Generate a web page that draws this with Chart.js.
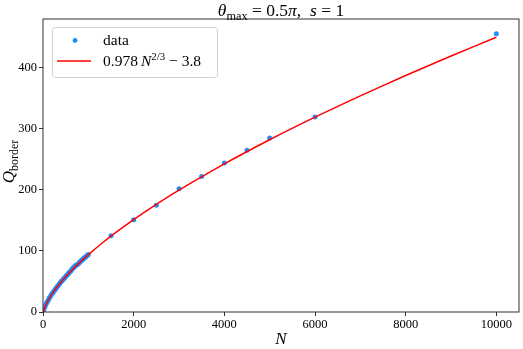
<!DOCTYPE html>
<html lang="en">
<head>
<meta charset="UTF-8">
<title>Q_border vs N</title>
<script src="https://cdn.jsdelivr.net/npm/chart.js"></script>
<style>
  html, body { margin: 0; padding: 0; background: #fff; }
  #wrap { width: 523px; height: 349px; }
</style>
</head>
<body>
<div id="wrap"><canvas id="qChart" width="523" height="349"></canvas></div>
<script>
const nValues = [10, 20, 40, 60, 80, 100, 120, 140, 160, 180, 200, 220, 240, 260, 280, 300,
  320, 340, 360, 380, 400, 420, 440, 460, 480, 500, 520, 540, 560, 580, 600, 620, 640, 660,
  680, 700, 720, 740, 760, 780, 800, 820, 840, 860, 880, 900, 920, 940, 960, 980, 1000,
  1500, 2000, 2500, 3000, 3500, 4000, 4500, 5000, 6000, 10000];
const qValues = [2, 4, 8, 12, 15, 17, 20, 23, 25, 28, 30, 32, 34, 36, 38, 40,
  42, 44, 46, 48, 50, 51, 53, 55, 56, 58, 60, 61, 63, 65, 66, 68, 70, 72,
  73, 75, 76, 77, 78, 79, 81, 82, 84, 85, 86, 88, 89, 90, 92, 93, 94,
  125, 151, 175, 202, 222, 244, 265, 285, 319.5, 456];

// fitted curve from the legend: 0.978 N^(2/3) - 3.8
const fitCoef = 0.978;
const fitExp = 2 / 3;
const fitShift = -3.8;
const fitN = [1, 2, 4, 7, 10, 15, 20, 30, 50, 75, 100, 150, 200, 300, 400, 500, 650, 800,
  1000, 1300, 1600, 2000, 2500, 3000, 4000, 5000, 6000, 7000, 8000, 9000, 10000];

const xTicks = [0, 2000, 4000, 6000, 8000, 10000];
const yTicks = [0, 100, 200, 300, 400];

const SERIF = '"Liberation Serif", "DejaVu Serif", serif';

// draw text made of runs (italic / sub / sup) so the math labels look right
function drawRuns(ctx, runs, x, y, size, align) {
  const parts = runs.map(r => {
    const s = (r.sub || r.sup) ? size * 0.7 : size;
    const font = (r.it ? 'italic ' : '') + s + 'px ' + SERIF;
    ctx.font = font;
    return { t: r.t, font, w: ctx.measureText(r.t).width,
      dy: r.sub ? size * 0.25 : (r.sup ? -size * 0.4 : 0) };
  });
  const total = parts.reduce((a, p) => a + p.w, 0);
  let cx = align === 'center' ? x - total / 2 : x;
  ctx.textAlign = 'left';
  ctx.textBaseline = 'alphabetic';
  parts.forEach(p => { ctx.font = p.font; ctx.fillText(p.t, cx, y + p.dy); cx += p.w; });
}

const decorations = {
  id: 'decorations',
  afterDraw(chart) {
    const ctx = chart.ctx;
    const a = chart.chartArea;
    ctx.save();
    // frame
    ctx.strokeStyle = '#333';
    ctx.lineWidth = 1;
    ctx.strokeRect(a.left, a.top, a.right - a.left, a.bottom - a.top);

    ctx.fillStyle = '#000';
    const cxPlot = (a.left + a.right) / 2;
    // title
    drawRuns(ctx, [{ t: 'θ', it: true }, { t: 'max', sub: true }, { t: ' = 0.5' },
      { t: 'π', it: true }, { t: ',  ' }, { t: 's', it: true }, { t: ' = 1' }],
      cxPlot, 16, 17.5, 'center');
    // x label
    drawRuns(ctx, [{ t: 'N', it: true }], cxPlot, 344, 17, 'center');
    // y label
    ctx.save();
    ctx.translate(14, (a.top + a.bottom) / 2 - 4);
    ctx.rotate(-Math.PI / 2);
    drawRuns(ctx, [{ t: 'Q', it: true }, { t: 'border', sub: true }], 0, 0, 17, 'center');
    ctx.restore();

    // legend
    const lx = 52, ly = 27, lw = 165, lh = 50;
    ctx.beginPath();
    ctx.roundRect(lx + 0.5, ly + 0.5, lw, lh, 3);
    ctx.fillStyle = 'rgba(255,255,255,0.8)';
    ctx.fill();
    ctx.strokeStyle = '#d0d0d0';
    ctx.stroke();

    ctx.fillStyle = '#1f8fff';
    ctx.beginPath();
    ctx.arc(75, 40.5, 2.4, 0, Math.PI * 2);
    ctx.fill();
    ctx.strokeStyle = '#ff0000';
    ctx.lineWidth = 1.5;
    ctx.beginPath();
    ctx.moveTo(57, 61);
    ctx.lineTo(91, 61);
    ctx.stroke();

    ctx.fillStyle = '#000';
    drawRuns(ctx, [{ t: 'data' }], 103, 45, 15.5, 'left');
    drawRuns(ctx, [{ t: '0.978\u2009' }, { t: 'N', it: true }, { t: '2/3', sup: true },
      { t: ' − 3.8' }], 103, 66, 15.5, 'left');
    ctx.restore();
  }
};

const ctx = document.getElementById('qChart').getContext('2d');
const qChart = new Chart(ctx, {
  type: 'scatter',
  data: {
    datasets: [{
      label: 'fit',
      data: fitN.map(n => ({ x: n, y: fitCoef * Math.pow(n, fitExp) + fitShift })),
      showLine: true,
      borderColor: '#ff0000',
      borderWidth: 1.5,
      pointRadius: 0,
      tension: 0.3,
      order: 0
    }, {
      label: 'data',
      data: nValues.map((n, i) => ({ x: n, y: qValues[i] })),
      backgroundColor: '#1f8fff',
      borderWidth: 0,
      pointRadius: 2.5,
      order: 1
    }]
  },
  options: {
    responsive: false,
    animation: false,
    layout: { padding: { left: 0, top: 19, right: 3, bottom: 0 } },
    plugins: { legend: { display: false }, title: { display: false }, tooltip: { enabled: false } },
    scales: {
      x: {
        type: 'linear',
        min: 0,
        max: 10500,
        afterBuildTicks: s => { s.ticks = xTicks.map(v => ({ value: v })); },
        afterFit: s => { s.height = 37; },
        border: { display: false },
        grid: { drawOnChartArea: false, drawTicks: true, tickLength: 4, color: '#333' },
        ticks: { color: '#000', padding: 1, maxRotation: 0, callback: v => String(v),
          font: { family: SERIF, size: 12.5 } }
      },
      y: {
        type: 'linear',
        min: 0,
        max: 480,
        afterBuildTicks: s => { s.ticks = yTicks.map(v => ({ value: v })); },
        afterFit: s => { s.width = 43; },
        border: { display: false },
        grid: { drawOnChartArea: false, drawTicks: true, tickLength: 4, color: '#333' },
        ticks: { color: '#000', padding: 2, callback: v => String(v),
          font: { family: SERIF, size: 12.5 } }
      }
    }
  },
  plugins: [decorations]
});
</script>
</body>
</html>
